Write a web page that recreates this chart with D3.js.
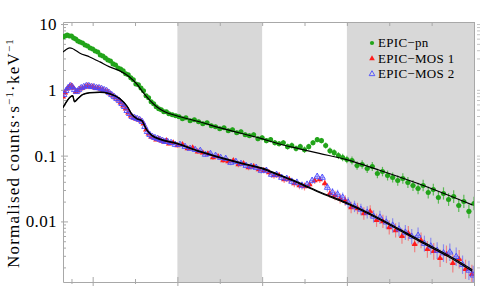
<!DOCTYPE html>
<html>
<head>
<meta charset="utf-8">
<script src="https://cdn.jsdelivr.net/npm/d3@7"></script>
<style>
body { margin: 0; background: #fff; }
svg { display: block; font-family: "Liberation Serif", "Times New Roman", serif; }
</style>
</head>
<body>
<div class="chart"></div>
<script>
// [energy keV, normalised counts, relative error]
const pnData = [
[0.30,6.35,0.03],[0.35,6.58,0.03],[0.40,6.81,0.03],[0.45,6.58,0.03],[0.50,6.58,0.03],[0.55,6.14,0.03],[0.60,5.93,0.03],[0.65,5.53,0.03],
[0.70,5.34,0.03],[0.76,5.15,0.03],[0.82,4.81,0.03],[0.88,4.64,0.03],[0.94,4.33,0.03],[1.00,4.18,0.03],[1.06,3.90,0.03],[1.12,3.76,0.03],
[1.18,3.39,0.03],[1.24,3.27,0.03],[1.30,3.05,0.03],[1.36,2.85,0.03],[1.42,2.75,0.03],[1.48,2.48,0.03],[1.54,2.39,0.03],[1.60,2.15,0.03],
[1.66,2.08,0.03],[1.72,1.94,0.03],[1.78,1.75,0.03],[1.84,1.69,0.03],[1.90,1.52,0.03],[1.96,1.42,0.03],[2.02,1.23,0.03],[2.08,1.19,0.03],
[2.14,1.07,0.03],[2.20,0.966,0.04],[2.26,0.811,0.04],[2.32,0.756,0.04],[2.38,0.658,0.04],[2.44,0.614,0.04],[2.50,0.553,0.04],[2.56,0.515,0.04],
[2.62,0.498,0.04],[2.68,0.464,0.04],[2.74,0.464,0.05],[2.80,0.433,0.05],[2.88,0.418,0.05],[2.96,0.404,0.05],[3.04,0.390,0.05],[3.12,0.364,0.06],
[3.20,0.376,0.06],[3.30,0.339,0.06],[3.40,0.351,0.06],[3.50,0.327,0.06],[3.60,0.305,0.07],[3.70,0.316,0.07],[3.80,0.285,0.07],[3.90,0.275,0.07],
[4.00,0.257,0.07],[4.10,0.266,0.07],[4.20,0.239,0.08],[4.30,0.248,0.08],[4.40,0.223,0.08],[4.50,0.231,0.08],[4.60,0.208,0.08],[4.70,0.201,0.08],
[4.80,0.208,0.09],[4.90,0.181,0.09],[5.00,0.187,0.09],[5.10,0.169,0.10],[5.20,0.175,0.10],[5.30,0.157,0.10],[5.40,0.152,0.10],[5.50,0.157,0.10],
[5.60,0.137,0.11],[5.70,0.142,0.11],[5.80,0.128,0.11],[5.90,0.137,0.11],[6.00,0.123,0.12],[6.10,0.137,0.11],[6.20,0.157,0.10],[6.30,0.175,0.10],
[6.40,0.169,0.10],[6.50,0.142,0.11],[6.60,0.119,0.12],[6.70,0.111,0.13],[6.80,0.100,0.13],[6.90,0.0933,0.14],[7.00,0.0870,0.14],[7.12,0.0840,0.15],
[7.24,0.0705,0.16],[7.36,0.0731,0.16],[7.48,0.0635,0.17],[7.60,0.0681,0.17],[7.72,0.0534,0.18],[7.84,0.0572,0.18],[7.96,0.0498,0.19],[8.08,0.0464,0.19],
[8.20,0.0418,0.20],[8.32,0.0448,0.20],[8.44,0.0390,0.21],[8.56,0.0351,0.21],[8.68,0.0316,0.22],[8.80,0.0351,0.22],[8.92,0.0275,0.23],[9.04,0.0305,0.23],
[9.16,0.0231,0.24],[9.28,0.0266,0.24],[9.40,0.0215,0.25],[9.52,0.0239,0.25],[9.64,0.0175,0.26],[9.76,0.0201,0.26],[9.88,0.0142,0.27],[10.0,0.0187,0.27]
];

const mos1Data = [
[0.30,0.783,0.04],[0.35,0.901,0.04],[0.40,1.04,0.04],[0.45,1.11,0.04],[0.50,1.15,0.04],[0.55,1.07,0.04],[0.60,0.933,0.04],[0.65,0.966,0.04],
[0.70,1.04,0.04],[0.76,1.07,0.04],[0.82,1.11,0.04],[0.88,1.15,0.04],[0.94,1.11,0.04],[1.00,1.11,0.04],[1.06,1.07,0.04],[1.12,1.07,0.04],
[1.18,1.04,0.04],[1.24,1.00,0.04],[1.30,0.966,0.04],[1.36,0.933,0.04],[1.42,0.870,0.04],[1.48,0.811,0.04],[1.54,0.756,0.04],[1.60,0.705,0.04],
[1.66,0.635,0.04],[1.72,0.572,0.04],[1.78,0.515,0.04],[1.84,0.448,0.05],[1.90,0.404,0.05],[1.96,0.376,0.05],[2.02,0.364,0.05],[2.08,0.351,0.05],
[2.14,0.339,0.05],[2.20,0.305,0.05],[2.26,0.248,0.06],[2.32,0.215,0.06],[2.38,0.194,0.06],[2.44,0.187,0.06],[2.50,0.175,0.06],[2.56,0.181,0.06],
[2.62,0.169,0.06],[2.68,0.163,0.07],[2.74,0.169,0.07],[2.80,0.152,0.07],[2.90,0.157,0.07],[3.00,0.142,0.07],[3.12,0.147,0.07],[3.24,0.128,0.08],
[3.36,0.132,0.08],[3.48,0.115,0.08],[3.60,0.111,0.08],[3.72,0.107,0.08],[3.84,0.0933,0.09],[3.96,0.0966,0.09],[4.08,0.0840,0.09],[4.20,0.0811,0.09],
[4.32,0.0840,0.10],[4.44,0.0731,0.10],[4.56,0.0756,0.10],[4.68,0.0658,0.10],[4.80,0.0681,0.11],[4.92,0.0614,0.11],[5.04,0.0593,0.11],[5.16,0.0553,0.12],
[5.28,0.0498,0.12],[5.40,0.0498,0.12],[5.52,0.0433,0.13],[5.64,0.0433,0.13],[5.76,0.0376,0.14],[5.88,0.0351,0.14],[6.00,0.0339,0.15],[6.12,0.0364,0.14],
[6.24,0.0418,0.13],[6.36,0.0433,0.13],[6.48,0.0376,0.14],[6.60,0.0266,0.17],[6.72,0.0248,0.18],[6.84,0.0223,0.19],[6.96,0.0208,0.20],[7.10,0.0163,0.22],
[7.25,0.0157,0.22],[7.40,0.0132,0.24],[7.55,0.0142,0.24],[7.70,0.0104,0.26],[7.85,0.0100,0.26],[8.00,0.00811,0.28],[8.15,0.00731,0.28],[8.30,0.00593,0.30],
[8.45,0.00658,0.30],[8.60,0.00448,0.32],[8.75,0.00515,0.32],[8.90,0.00376,0.34],[9.05,0.00351,0.34],[9.20,0.00275,0.36],[9.35,0.00316,0.36],[9.50,0.00231,0.38],
[9.65,0.00266,0.38],[9.80,0.00187,0.40],[9.95,0.00157,0.40]
];

const mos2Data = [
[0.32,0.840,0.04],[0.37,0.966,0.04],[0.42,1.07,0.04],[0.47,1.15,0.04],[0.52,1.11,0.04],[0.57,1.00,0.04],[0.62,0.933,0.04],[0.67,1.00,0.04],
[0.73,1.07,0.04],[0.79,1.11,0.04],[0.85,1.15,0.04],[0.91,1.15,0.04],[0.97,1.11,0.04],[1.03,1.11,0.04],[1.09,1.07,0.04],[1.15,1.07,0.04],
[1.21,1.04,0.04],[1.27,1.00,0.04],[1.33,0.966,0.04],[1.39,0.901,0.04],[1.45,0.840,0.04],[1.51,0.783,0.04],[1.57,0.731,0.04],[1.63,0.681,0.04],
[1.69,0.614,0.04],[1.75,0.553,0.04],[1.81,0.481,0.05],[1.87,0.433,0.05],[1.93,0.390,0.05],[1.99,0.376,0.05],[2.05,0.364,0.05],[2.11,0.351,0.05],
[2.17,0.327,0.05],[2.23,0.275,0.06],[2.29,0.231,0.06],[2.35,0.208,0.06],[2.41,0.194,0.06],[2.47,0.187,0.06],[2.53,0.181,0.06],[2.59,0.175,0.06],
[2.65,0.169,0.06],[2.71,0.163,0.07],[2.77,0.163,0.07],[2.85,0.157,0.07],[2.95,0.147,0.07],[3.06,0.147,0.07],[3.18,0.137,0.08],[3.30,0.128,0.08],
[3.42,0.123,0.08],[3.54,0.119,0.08],[3.66,0.104,0.08],[3.78,0.107,0.09],[3.90,0.100,0.09],[4.02,0.0933,0.09],[4.14,0.0901,0.09],[4.26,0.0783,0.10],
[4.38,0.0811,0.10],[4.50,0.0756,0.10],[4.62,0.0705,0.10],[4.74,0.0681,0.11],[4.86,0.0658,0.11],[4.98,0.0593,0.11],[5.10,0.0593,0.12],[5.22,0.0515,0.12],
[5.34,0.0515,0.12],[5.46,0.0464,0.13],[5.58,0.0448,0.13],[5.70,0.0404,0.14],[5.82,0.0390,0.14],[5.94,0.0351,0.15],[6.06,0.0364,0.14],[6.18,0.0418,0.13],
[6.30,0.0481,0.12],[6.42,0.0464,0.13],[6.54,0.0327,0.16],[6.66,0.0275,0.17],[6.78,0.0257,0.18],[6.90,0.0231,0.19],[7.03,0.0194,0.20],[7.18,0.0169,0.22],
[7.33,0.0152,0.22],[7.48,0.0137,0.24],[7.63,0.0119,0.24],[7.78,0.0115,0.26],[7.93,0.0097,0.26],[8.08,0.0087,0.28],[8.23,0.0076,0.28],[8.38,0.0068,0.30],
[8.53,0.0059,0.30],[8.68,0.0061,0.32],[8.83,0.0046,0.32],[8.98,0.0042,0.34],[9.13,0.0036,0.34],[9.28,0.0033,0.36],[9.43,0.0034,0.36],[9.58,0.0029,0.38],
[9.73,0.0022,0.38],[9.88,0.0018,0.40],[9.98,0.00152,0.40]
];

// best-fit model curves [energy keV, counts]
const pnModel = [
[0.30,3.76],[0.36,4.04],[0.46,4.33],[0.52,4.25],[0.58,4.04],[0.69,3.64],[0.93,3.16],[1.17,2.66],[1.40,2.23],[1.64,1.94],
[1.87,1.57],[2.04,1.23],[2.18,0.933],[2.34,0.705],[2.51,0.553],[2.70,0.464],[2.98,0.404],[3.52,0.327],[3.99,0.266],[4.99,0.181],
[5.41,0.150],[5.88,0.127],[6.35,0.108],[6.99,0.087],[7.77,0.060],[8.71,0.037],[9.96,0.0178]
];
const mos1Model = [
[0.30,0.534],[0.40,0.681],[0.48,0.783],[0.53,0.811],[0.57,0.658],[0.65,0.731],[0.76,0.840],[0.93,0.901],[1.17,0.915],[1.40,0.870],
[1.64,0.731],[1.82,0.553],[1.93,0.418],[2.04,0.364],[2.16,0.339],[2.27,0.248],[2.40,0.201],[2.60,0.175],[2.98,0.152],[3.52,0.115],
[3.99,0.0933],[4.52,0.0756],[4.99,0.0635],[5.41,0.0498],[5.88,0.0376],[6.35,0.0275],[6.99,0.0187],[7.77,0.0107],[8.71,0.00498],
[9.42,0.00285],[9.96,0.00175]
];
const mos2Model = [
[0.30,0.540],[0.40,0.690],[0.48,0.790],[0.53,0.818],[0.57,0.665],[0.65,0.738],[0.76,0.848],[0.93,0.910],[1.17,0.924],[1.40,0.878],
[1.64,0.738],[1.82,0.558],[1.93,0.422],[2.04,0.368],[2.16,0.343],[2.27,0.251],[2.40,0.204],[2.60,0.178],[2.98,0.155],[3.52,0.117],
[3.99,0.0952],[4.52,0.0772],[4.99,0.0650],[5.41,0.0510],[5.88,0.0386],[6.35,0.0283],[6.99,0.0193],[7.77,0.0111],[8.71,0.00520],
[9.42,0.00298],[9.96,0.00184]
];

const bands = [[3, 5], [7, 10]];
const energyTicks = [0.5, 1, 2, 3, 4, 5, 6, 7, 8, 9, 10];
const longEnergyTicks = [1, 3, 5, 7, 10];
const countTicks = [0.01, 0.1, 1, 10];
const countLabels = ["0.01", "0.1", "1", "10"];
const legendLabels = ["EPIC\u2212pn", "EPIC\u2212MOS 1", "EPIC\u2212MOS 2"];

const width = 485, height = 307;
const left = 63, right = 474, top_ = 22, bottom = 282;
const axis_color = "#a8a8a8";
const serif = "'Liberation Serif', 'Times New Roman', serif";

const svg = d3.select(".chart").append("svg")
  .attr("width", width)
  .attr("height", height);

const x = d3.scaleLinear().domain([0.3, 10]).range([left, right]);
const y = d3.scaleLog().domain([0.0012, 10.74]).range([bottom, top_]);

svg.append("defs").append("clipPath").attr("id", "plot-clip")
  .append("rect").attr("x", left).attr("y", top_).attr("width", right - left).attr("height", bottom - top_);

// Shaded energy bands
svg.append("g").attr("class", "bands")
  .selectAll("rect").data(bands).join("rect")
    .attr("x", d => x(d[0]))
    .attr("width", d => x(d[1]) - x(d[0]))
    .attr("y", top_)
    .attr("height", bottom - top_)
    .attr("fill", "#d8d8d8");

//
// Axes
//
const minorCounts = [];
for (let p = -3; p <= 1; p++) {
  for (let m = 2; m <= 9; m++) {
    const v = m * Math.pow(10, p);
    if (v > y.domain()[0] && v < y.domain()[1]) minorCounts.push(v);
  }
}

const styleAxis = g => {
  g.selectAll("path.domain").attr("stroke", axis_color);
  g.selectAll(".tick line").attr("stroke", axis_color);
};

const xb = svg.append("g").attr("transform", `translate(0,${bottom})`)
  .call(d3.axisBottom(x).tickValues(energyTicks).tickFormat("").tickSizeOuter(0))
  .call(styleAxis);
xb.selectAll(".tick line")
  .attr("y1", d => longEnergyTicks.includes(d) ? -5 : -3)
  .attr("y2", d => longEnergyTicks.includes(d) ? 4 : 2);

svg.append("g").attr("transform", `translate(0,${top_})`)
  .call(d3.axisTop(x).tickValues(energyTicks).tickFormat("").tickSize(-4).tickSizeOuter(0))
  .call(styleAxis);

const yl = svg.append("g").attr("transform", `translate(${left},0)`)
  .call(d3.axisLeft(y).tickValues(countTicks).tickSize(-5).tickSizeOuter(0).tickPadding(6)
    .tickFormat((d, i) => countLabels[i]))
  .call(styleAxis);
yl.selectAll(".tick line").attr("x1", -2);
yl.attr("font-family", serif).attr("font-size", 17);
yl.selectAll("text").attr("fill", "#000").attr("letter-spacing", 0.4);

svg.append("g").attr("transform", `translate(${left},0)`)
  .call(d3.axisLeft(y).tickValues(minorCounts).tickSize(-3).tickFormat(""))
  .call(g => g.select("path.domain").remove())
  .call(styleAxis);

svg.append("g").attr("transform", `translate(${right},0)`)
  .call(d3.axisRight(y).tickValues([]).tickSizeOuter(0))
  .call(styleAxis);
svg.append("g").attr("transform", `translate(${right + 3},0)`)
  .call(d3.axisRight(y).tickValues(minorCounts.concat(countTicks)).tickSize(3).tickFormat(""))
  .call(g => g.select("path.domain").remove())
  .call(g => g.selectAll(".tick line").attr("stroke", "#c4c4c4"));

// Y label
const ylabel = svg.append("text")
  .attr("transform", `translate(19,${(top_ + bottom) / 2 + 1}) rotate(-90)`)
  .attr("text-anchor", "middle")
  .attr("font-family", serif)
  .attr("font-size", 17)
  .attr("letter-spacing", 1.2);
ylabel.append("tspan").text("Normalised counts\u00b7s");
ylabel.append("tspan").attr("dy", -6).attr("font-size", 11).text("\u22121");
ylabel.append("tspan").attr("dy", 6).text("\u00b7keV");
ylabel.append("tspan").attr("dy", -6).attr("font-size", 11).text("\u22121");

//
// Data with error bars
//
function halfWidth(data, i) {
  const e = data[i][0];
  const prev = i > 0 ? data[i - 1][0] : null;
  const next = i < data.length - 1 ? data[i + 1][0] : null;
  if (prev === null) return (next - e) / 2;
  if (next === null) return (e - prev) / 2;
  return (next - prev) / 4;
}

const plot = svg.append("g").attr("clip-path", "url(#plot-clip)");

function drawSeries(data, cls, color, errColor, symbolType, size, open) {
  const g = plot.append("g").attr("class", cls);
  g.selectAll("line.ey").data(data).join("line")
    .attr("class", "ey")
    .attr("x1", d => x(d[0])).attr("x2", d => x(d[0]))
    .attr("y1", d => y(d[1] * (1 + d[2]))).attr("y2", d => y(d[1] / (1 + d[2])))
    .attr("stroke", errColor).attr("stroke-width", 1.2);
  g.selectAll("line.ex").data(data).join("line")
    .attr("class", "ex")
    .attr("x1", (d, i) => x(d[0] - halfWidth(data, i))).attr("x2", (d, i) => x(d[0] + halfWidth(data, i)))
    .attr("y1", d => y(d[1])).attr("y2", d => y(d[1]))
    .attr("stroke", errColor).attr("stroke-width", 1.2);
  g.selectAll("path.pt").data(data).join("path")
    .attr("class", "pt")
    .attr("transform", d => `translate(${x(d[0])},${y(d[1])})`)
    .attr("d", d3.symbol(symbolType, size))
    .attr("fill", open ? "none" : color)
    .attr("stroke", open ? color : "none")
    .attr("stroke-width", 0.9);
}

drawSeries(pnData, "pn", "#22a41a", "rgba(50,175,40,0.75)", d3.symbolCircle, 20, false);
drawSeries(mos1Data, "mos1", "#ff1c1c", "rgba(255,70,70,0.6)", d3.symbolTriangle, 16, false);
drawSeries(mos2Data, "mos2", "#4b4bff", "rgba(90,90,255,0.6)", d3.symbolTriangle, 16, true);

// Model curves
const line = d3.line().x(d => x(d[0])).y(d => y(d[1])).curve(d3.curveMonotoneX);
plot.selectAll("path.model").data([pnModel, mos1Model, mos2Model]).join("path")
  .attr("class", "model")
  .attr("d", line)
  .attr("fill", "none")
  .attr("stroke", "#000")
  .attr("stroke-width", 1.2);

//
// Legend
//
const legend = svg.append("g").attr("class", "legend").attr("transform", "translate(372,43)");
const legendStyles = [
  { type: d3.symbolCircle, size: 14, color: "#22a41a", open: false },
  { type: d3.symbolTriangle, size: 14, color: "#ff1c1c", open: false },
  { type: d3.symbolTriangle, size: 14, color: "#4b4bff", open: true },
];
const rows = legend.selectAll("g").data(legendLabels).join("g")
  .attr("transform", (d, i) => `translate(0,${i * 15.5})`);
rows.append("path")
  .attr("d", (d, i) => d3.symbol(legendStyles[i].type, legendStyles[i].size)())
  .attr("fill", (d, i) => legendStyles[i].open ? "none" : legendStyles[i].color)
  .attr("stroke", (d, i) => legendStyles[i].open ? legendStyles[i].color : "none")
  .attr("stroke-width", 0.9);
rows.append("text")
  .attr("x", 6)
  .attr("y", 4)
  .attr("font-family", serif)
  .attr("font-size", 13)
  .attr("letter-spacing", 0.3)
  .text(d => d);
</script>
</body>
</html>
